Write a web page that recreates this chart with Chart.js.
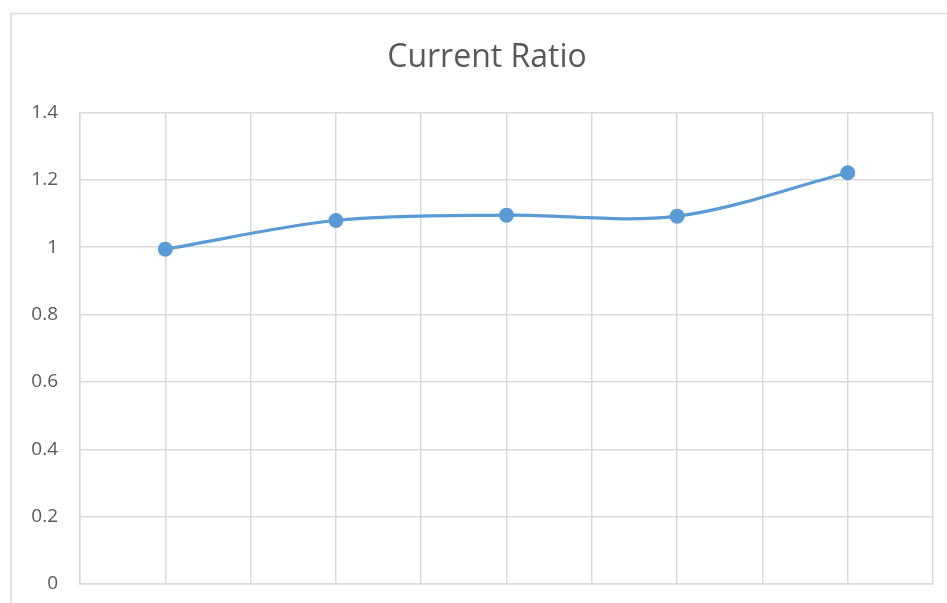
<!DOCTYPE html>
<html>
<head>
<meta charset="utf-8">
<script src="https://cdn.jsdelivr.net/npm/chart.js@4.4.1/dist/chart.umd.min.js"></script>
<style>
  html, body { margin: 0; padding: 0; background: #ffffff; }
  #wrap { position: relative; width: 947px; height: 603px; }
</style>
</head>
<body>
<div id="wrap"><canvas id="chart" width="947" height="603"></canvas></div>
<script>
// Periods along the horizontal axis (unlabelled) and the ratio for each
const categories = ['', '', '', '', ''];
const currentRatio = [0.994, 1.079, 1.095, 1.092, 1.221];
const yMin = 0;
const yMax = 1.4;
const yStep = 0.2;

const GRID = '#d9d9d9';
const TEXT = '#595959';
const LINE = '#5b9bd5';

// Frame around the whole chart object
const framePlugin = {
  id: 'frame',
  beforeDraw(chart) {
    const ctx = chart.ctx;
    ctx.save();
    ctx.fillStyle = '#ffffff';
    ctx.fillRect(0, 0, chart.width, chart.height);
    ctx.strokeStyle = GRID;
    ctx.lineWidth = 1.5;
    ctx.strokeRect(11, 13.5, chart.width + 20, chart.height + 20);
    ctx.restore();
  }
};

// Centre the title on the outer frame, which runs past the right edge
const titleShiftPlugin = {
  id: 'titleShift',
  afterLayout(chart) {
    const t = chart.titleBlock;
    if (t) { t.left += 14.5; t.right += 14.5; }
  }
};

new Chart(document.getElementById('chart'), {
  type: 'line',
  data: {
    datasets: [{
      label: 'Current Ratio',
      data: categories.map((c, i) => ({ x: i, y: currentRatio[i] })),
      borderColor: LINE,
      backgroundColor: LINE,
      borderWidth: 3.2,
      tension: 0.33,
      pointRadius: 6.5,
      pointBorderWidth: 2,
      pointBackgroundColor: LINE,
      pointBorderColor: LINE,
      fill: false
    }]
  },
  options: {
    responsive: false,
    animation: false,
    layout: { padding: { left: 12, right: 14, top: 0, bottom: 19 } },
    plugins: {
      legend: { display: false },
      tooltip: { enabled: false },
      title: {
        display: true,
        text: 'Current Ratio',
        color: TEXT,
        font: { family: 'Open Sans', size: 32, weight: 'normal' },
        padding: { top: 39, bottom: 35 }
      }
    },
    scales: {
      x: {
        type: 'linear',
        min: -0.5,
        max: categories.length - 0.5,
        afterFit(scale) { scale.height = 0; },
        ticks: { display: false, stepSize: 0.5 },
        grid: { color: GRID, lineWidth: 1.5, drawTicks: false },
        border: { color: GRID, width: 1.5 }
      },
      y: {
        min: yMin,
        max: yMax,
        afterFit(scale) {
          scale.width = 68;
          scale.paddingTop = 0;
          scale.paddingBottom = 0;
        },
        ticks: {
          stepSize: yStep,
          padding: 22,
          color: TEXT,
          font: { family: 'Open Sans', size: 19 },
          callback: v => String(+v.toFixed(1))
        },
        grid: { color: GRID, lineWidth: 1.5, drawTicks: false },
        border: { color: GRID, width: 1.5 }
      }
    }
  },
  plugins: [framePlugin, titleShiftPlugin]
});
</script>
</body>
</html>
